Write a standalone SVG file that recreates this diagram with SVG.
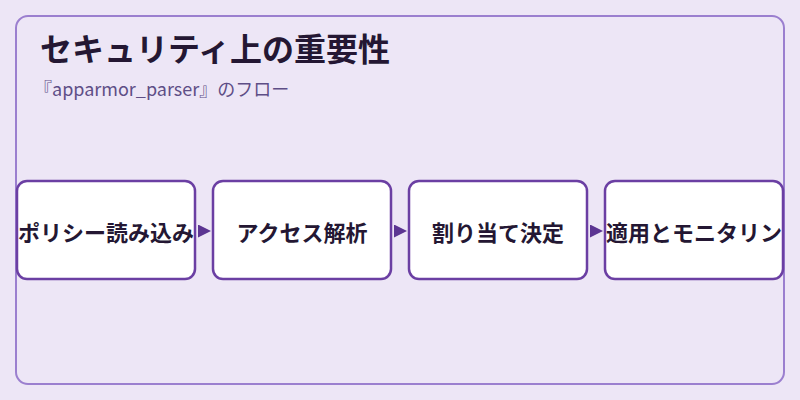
<svg xmlns="http://www.w3.org/2000/svg" width="800" height="400" viewBox="0 0 800 400">
<style>
.node rect{fill:#ffffff;stroke:#6b3fa3;stroke-width:2.5}
.node text{font-family:"Noto Sans CJK JP","Noto Sans",sans-serif;font-size:22px;font-weight:bold;fill:#241733;text-anchor:middle;dominant-baseline:central}
.title{font-family:"Noto Sans CJK JP","Noto Sans",sans-serif;font-size:32px;font-weight:bold;fill:#241733}
.sub{font-family:"Noto Sans CJK JP","Noto Sans",sans-serif;font-size:18px;fill:#5e4e86}
</style>
<defs>
<marker id="arr" viewBox="0 0 10 10" refX="10" refY="5" markerWidth="13" markerHeight="13" markerUnits="userSpaceOnUse" orient="auto">
<path d="M0,0 L10,5 L0,10 Z" fill="#5c3592"/>
</marker>
</defs>
<rect width="800" height="400" fill="#ede6f6"/>
<rect x="16" y="16" width="768" height="368" rx="12" fill="none" stroke="#9b7fcf" stroke-width="2"/>
<text class="title" x="40" y="61">セキュリティ上の重要性</text>
<text class="sub" x="34" y="96">『apparmor_parser』のフロー</text>
<g id="connectors">
<line x1="196" y1="231" x2="211" y2="231" stroke="#5c3592" stroke-width="0" marker-end="url(#arr)"/>
<line x1="392" y1="231" x2="407" y2="231" stroke="#5c3592" stroke-width="0" marker-end="url(#arr)"/>
<line x1="588" y1="231" x2="603" y2="231" stroke="#5c3592" stroke-width="0" marker-end="url(#arr)"/>
</g>
<g id="node1" class="node"><rect x="17" y="181" width="178" height="98" rx="10"/><text x="106" y="231">ポリシー読み込み</text></g>
<g id="node2" class="node"><rect x="213" y="181" width="178" height="98" rx="10"/><text x="302" y="231">アクセス解析</text></g>
<g id="node3" class="node"><rect x="409" y="181" width="178" height="98" rx="10"/><text x="498" y="231">割り当て決定</text></g>
<g id="node4" class="node"><rect x="605" y="181" width="178" height="98" rx="10"/><text x="694" y="231">適用とモニタリン</text></g>
</svg>
